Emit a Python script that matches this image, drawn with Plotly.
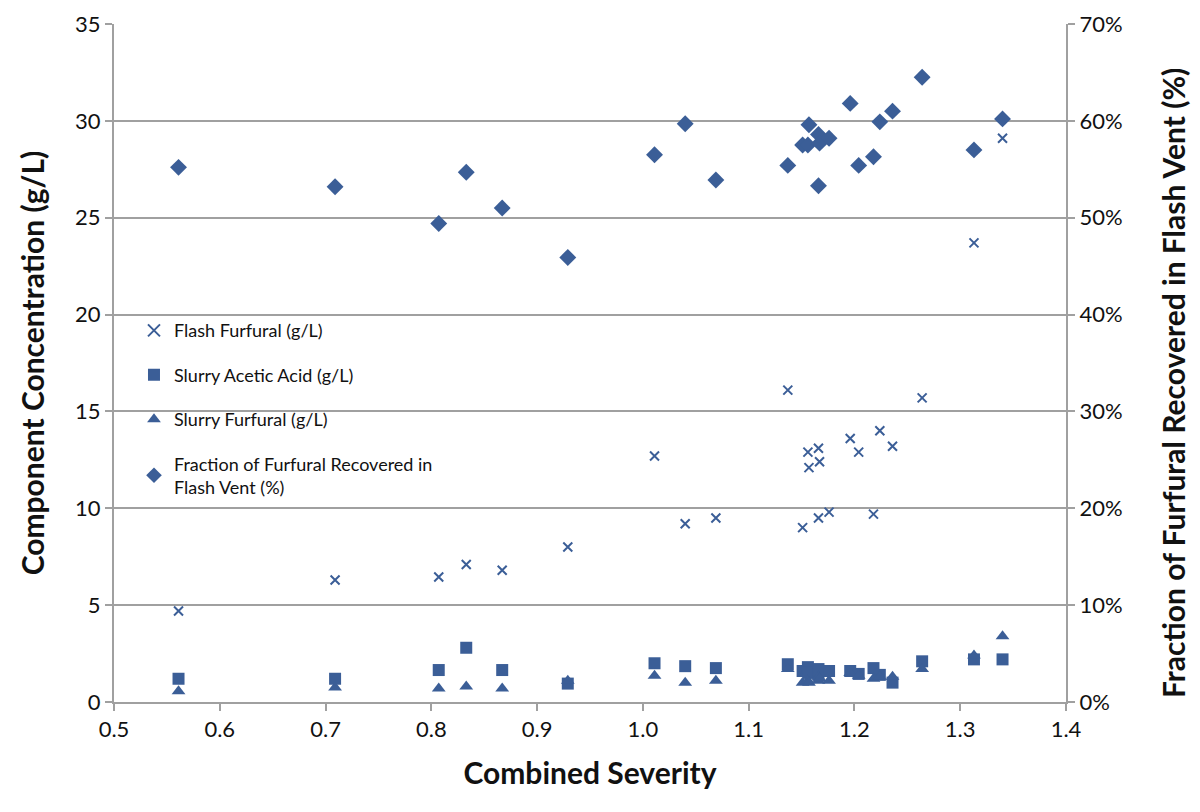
import plotly.graph_objects as go

severity = [0.561, 0.709, 0.807, 0.833, 0.867, 0.929, 1.011, 1.040, 1.069, 1.137,
            1.151, 1.156, 1.157, 1.166, 1.166, 1.167, 1.176, 1.196, 1.204, 1.218,
            1.224, 1.236, 1.264, 1.313, 1.340]
flash_furfural = [4.7, 6.3, 6.45, 7.1, 6.8, 8.0, 12.7, 9.2, 9.5, 16.1,
                  9.0, 12.9, 12.1, 13.1, 9.5, 12.4, 9.8, 13.6, 12.9, 9.7,
                  14.0, 13.2, 15.7, 23.7, 29.1]
slurry_acetic = [1.2, 1.2, 1.65, 2.8, 1.65, 0.95, 2.0, 1.85, 1.75, 1.95,
                 1.6, 1.8, 1.5, 1.7, 1.4, 1.6, 1.6, 1.6, 1.45, 1.75,
                 1.4, 1.0, 2.1, 2.2, 2.2]
slurry_furfural = [0.55, 0.75, 0.7, 0.8, 0.7, 1.1, 1.35, 1.0, 1.1, 1.7,
                   1.0, 1.1, 1.0, 1.3, 1.1, 1.2, 1.1, 1.5, 1.35, 1.2,
                   1.3, 1.3, 1.7, 2.4, 3.4]
fraction_pct = [55.2, 53.2, 49.4, 54.7, 51.0, 45.9, 56.5, 59.7, 53.9, 55.4,
                57.5, 57.5, 59.6, 58.6, 53.3, 57.7, 58.2, 61.8, 55.4, 56.3,
                59.9, 61.0, 64.5, 57.0, 60.2]

C = "#3B5E97"
FONT = "Lato"

fig = go.Figure()
fig.add_trace(go.Scatter(x=severity, y=flash_furfural, mode="markers", name="Flash Furfural (g/L)",
                         legendgroup="a",
                         marker=dict(symbol="x-thin", size=9, color=C, line=dict(width=2, color=C))))
fig.add_trace(go.Scatter(x=severity, y=slurry_acetic, mode="markers", name="Slurry Acetic Acid (g/L)",
                         legendgroup="b",
                         marker=dict(symbol="square", size=12, color=C)))
fig.add_trace(go.Scatter(x=severity, y=slurry_furfural, mode="markers", name="Slurry Furfural (g/L)",
                         legendgroup="c",
                         marker=dict(symbol="triangle-up", size=12, color=C)))
fig.add_trace(go.Scatter(x=severity, y=fraction_pct, mode="markers", yaxis="y2",
                         name="Fraction of Furfural Recovered in<br>Flash Vent (%)",
                         legendgroup="d",
                         marker=dict(symbol="diamond", size=13, color=C)))

axcol = "#A0A0A0"
fig.update_layout(
    width=1200, height=812,
    margin=dict(l=106, r=142, t=16, b=118),
    paper_bgcolor="white", plot_bgcolor="white",
    font=dict(family=FONT, size=22, color="#111"),
    showlegend=True,
    legend=dict(x=0.021, y=0.575, xanchor="left", yanchor="top", bgcolor="rgba(0,0,0,0)",
                font=dict(size=18, family=FONT), tracegroupgap=18, traceorder="grouped",
                itemsizing="constant"),
    xaxis=dict(range=[0.5, 1.4], dtick=0.1, tick0=0.5, tickformat=".1f", automargin=False,
               showgrid=False, zeroline=False, showline=True, linecolor=axcol, linewidth=2,
               ticks="outside", ticklen=7, tickcolor=axcol, tickwidth=2,
               title=dict(text="<b>Combined Severity</b>", font=dict(size=30, family=FONT), standoff=22)),
    yaxis=dict(range=[0, 35], dtick=5, showgrid=True, gridcolor=axcol, gridwidth=2, automargin=False,
               zeroline=False, showline=True, linecolor=axcol, linewidth=2,
               ticks="outside", ticklen=7, tickcolor=axcol, tickwidth=2,
               title=dict(text="<b>Component Concentration (g/L)</b>", font=dict(size=30, family=FONT), standoff=22)),
    yaxis2=dict(range=[0, 70], dtick=10, ticksuffix="%", overlaying="y", side="right", automargin=False,
                showgrid=False, zeroline=False, showline=True, linecolor=axcol, linewidth=2,
                ticks="outside", ticklen=7, tickcolor=axcol, tickwidth=2),
    annotations=[dict(text="<b>Fraction of Furfural Recovered in Flash Vent (%)</b>",
                      xref="paper", yref="paper", x=1.113, y=0.47, xanchor="center", yanchor="middle",
                      textangle=-90, showarrow=False, font=dict(size=30, family=FONT, color="#111"))],
)

fig.write_html("out.html")
